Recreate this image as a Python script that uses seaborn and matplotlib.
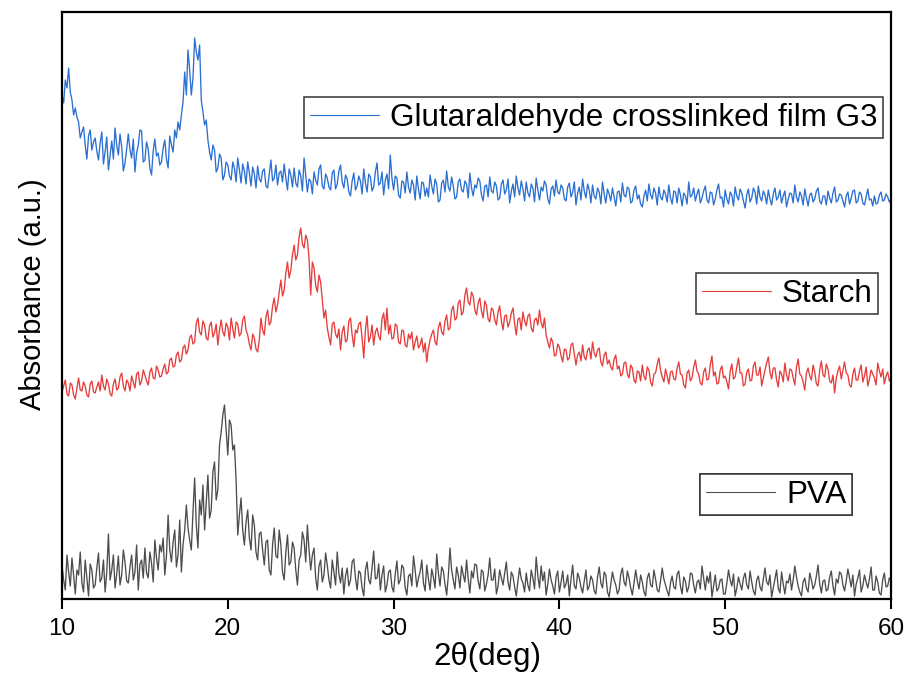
import numpy as np
import pandas as pd
import matplotlib
matplotlib.use("Agg")
import matplotlib.pyplot as plt
import seaborn as sns
from matplotlib.lines import Line2D

# 2-theta grid (deg), 0.1 deg step, 10..60 (one row below = 1 degree)
two_theta = [round(10 + 0.1 * i, 1) for i in range(501)]

g3_intensity = [
    505, 497, 520, 512, 532, 508, 500, 485, 492, 483,
    478, 462, 468, 473, 455, 441, 464, 470, 450, 458,
    462, 449, 440, 457, 468, 436, 448, 463, 430, 445,
    459, 441, 472, 455, 445, 466, 453, 429, 437, 451,
    466, 450, 442, 461, 428, 447, 455, 470, 469, 438,
    440, 458, 451, 432, 425, 449, 461, 444, 447, 435,
    438, 452, 460, 441, 432, 464, 455, 448, 470, 462,
    478, 470, 485, 498, 528, 505, 550, 530, 505, 522,
    562, 548, 540, 555, 500, 488, 475, 480, 460, 448,
    440, 455, 450, 428, 432, 446, 442, 420, 425, 438,
    435, 424, 420, 438, 432, 418, 442, 430, 417, 436,
    429, 416, 438, 427, 414, 433, 426, 412, 434, 421,
    418, 429, 431, 414, 412, 426, 440, 419, 422, 435,
    415, 427, 429, 418, 436, 422, 410, 431, 425, 413,
    432, 417, 413, 430, 424, 409, 442, 425, 408, 421,
    419, 406, 428, 420, 415, 431, 435, 414, 411, 426,
    422, 413, 410, 427, 430, 411, 416, 429, 435, 418,
    412, 425, 421, 408, 404, 419, 427, 410, 414, 424,
    419, 406, 431, 417, 408, 426, 423, 409, 413, 428,
    437, 415, 417, 428, 405, 420, 426, 411, 445, 422,
    410, 424, 422, 405, 402, 419, 418, 407, 428, 413,
    407, 420, 415, 400, 424, 411, 401, 418, 417, 404,
    412, 403, 425, 414, 406, 421, 416, 398, 400, 417,
    420, 408, 429, 413, 409, 423, 414, 401, 403, 418,
    421, 410, 408, 419, 416, 402, 427, 412, 404, 415,
    412, 422, 419, 405, 399, 414, 415, 403, 423, 409,
    407, 418, 414, 400, 402, 416, 420, 406, 410, 421,
    397, 409, 416, 403, 424, 412, 405, 419, 411, 399,
    418, 407, 403, 416, 412, 398, 422, 410, 400, 413,
    409, 419, 415, 401, 396, 411, 414, 404, 420, 408,
    406, 415, 412, 401, 399, 413, 417, 403, 408, 418,
    395, 407, 413, 400, 421, 409, 402, 416, 410, 397,
    415, 404, 401, 412, 408, 396, 418, 406, 397, 411,
    406, 399, 412, 403, 394, 408, 409, 398, 417, 405,
    403, 413, 411, 397, 399, 410, 414, 401, 405, 396,
    393, 404, 410, 399, 416, 405, 401, 412, 407, 395,
    413, 403, 400, 410, 406, 398, 415, 402, 396, 409,
    408, 397, 412, 405, 394, 407, 404, 396, 418, 403,
    405, 412, 399, 406, 411, 397, 402, 409, 414, 400,
    397, 408, 407, 395, 401, 410, 416, 402, 403, 393,
    410, 401, 396, 408, 405, 394, 413, 404, 400, 411,
    407, 399, 392, 405, 411, 398, 402, 412, 408, 396,
    414, 403, 399, 409, 405, 396, 410, 401, 395, 406,
    412, 400, 403, 410, 397, 404, 409, 393, 401, 407,
    406, 397, 415, 403, 398, 408, 404, 395, 411, 402,
    394, 405, 407, 398, 401, 409, 412, 399, 396, 404,
    404, 395, 409, 402, 397, 407, 413, 398, 400, 406,
    405, 399, 393, 404, 408, 396, 402, 409, 410, 397,
    399, 408, 406, 397, 395, 403, 411, 400, 401, 394,
    404, 396, 397, 405, 408, 399, 400, 406, 403, 398,
    401,
]

starch_intensity = [
    208, 214, 220, 206, 204, 217, 215, 205, 201, 212,
    222, 210, 209, 218, 214, 205, 203, 216, 219, 208,
    207, 213, 218, 209, 225, 214, 210, 221, 216, 206,
    204, 216, 221, 210, 212, 223, 227, 214, 209, 220,
    217, 209, 224, 218, 212, 226, 228, 215, 219, 230,
    225, 219, 215, 228, 232, 222, 221, 234, 230, 223,
    224, 231, 236, 226, 228, 240, 242, 233, 234, 245,
    248, 238, 240, 252, 255, 246, 250, 262, 265, 256,
    258, 277, 282, 268, 265, 279, 275, 262, 260, 274,
    278, 263, 267, 276, 255, 270, 280, 268, 264, 277,
    273, 260, 282, 271, 262, 278, 276, 264, 267, 280,
    284, 270, 265, 256, 250, 266, 262, 251, 248, 260,
    282, 270, 265, 283, 290, 275, 278, 294, 302, 288,
    295, 308, 320, 304, 310, 327, 338, 322, 330, 345,
    355, 340, 345, 363, 372, 356, 352, 365, 360, 342,
    305, 338, 332, 315, 308, 325, 318, 300, 282, 290,
    272, 263, 255, 276, 278, 266, 262, 271, 250, 268,
    274, 258, 260, 279, 282, 265, 253, 270, 267, 276,
    278, 262, 242, 270, 284, 258, 263, 275, 255, 268,
    272, 264, 260, 281, 287, 270, 292, 266, 275, 261,
    262, 276, 274, 258, 256, 270, 269, 255, 253, 266,
    261, 268, 250, 258, 264, 252, 255, 262, 248, 257,
    238, 252, 260, 266, 270, 258, 255, 272, 278, 268,
    265, 279, 285, 270, 272, 290, 294, 280, 282, 297,
    300, 285, 288, 305, 312, 298, 295, 308, 304, 290,
    285, 297, 302, 289, 282, 299, 295, 281, 278, 292,
    290, 280, 275, 288, 294, 279, 270, 284, 285, 273,
    278, 287, 292, 276, 265, 281, 282, 270, 288, 279,
    274, 284, 286, 272, 268, 280, 282, 275, 290, 277,
    272, 282, 265, 258, 252, 262, 258, 244, 245, 256,
    253, 244, 238, 251, 250, 240, 242, 255, 257, 246,
    235, 245, 248, 239, 255, 243, 240, 250, 252, 241,
    258, 247, 243, 250, 252, 238, 234, 245, 248, 236,
    240, 233, 230, 241, 245, 231, 234, 224, 226, 237,
    238, 226, 222, 235, 232, 220, 217, 229, 228, 219,
    235, 224, 220, 233, 230, 218, 214, 226, 227, 236,
    242, 230, 223, 218, 231, 224, 216, 228, 229, 221,
    220, 232, 238, 226, 225, 215, 212, 227, 230, 219,
    222, 233, 240, 229, 226, 217, 215, 228, 232, 220,
    221, 235, 244, 224, 228, 216, 217, 230, 234, 222,
    224, 218, 211, 229, 236, 221, 223, 233, 242, 227,
    227, 214, 216, 228, 231, 219, 220, 234, 238, 225,
    225, 233, 214, 222, 230, 237, 243, 228, 221, 232,
    232, 220, 213, 229, 226, 218, 237, 225, 219, 231,
    230, 222, 215, 233, 241, 226, 224, 218, 210, 227,
    232, 224, 220, 235, 228, 216, 214, 230, 239, 225,
    223, 236, 231, 219, 217, 225, 207, 222, 229, 234,
    221, 230, 238, 227, 225, 215, 213, 226, 232, 220,
    220, 229, 235, 218, 224, 233, 214, 221, 230, 226,
    222, 215, 237, 229, 223, 231, 216, 224, 228, 219,
    222,
]

pva_intensity = [
    35, 20, 10, 45, 28, 14, 42, 25, 6, 30,
    25, 48, 17, 8, 40, 22, 4, 36, 30, 12,
    15, 32, 47, 18, 22, 40, 8, 28, 66, 20,
    30, 45, 12, 26, 44, 15, 25, 50, 38, 19,
    17, 33, 45, 20, 28, 55, 10, 36, 40, 22,
    52, 27, 22, 48, 37, 18, 60, 42, 30, 55,
    48, 62, 25, 44, 85, 50, 38, 58, 70, 33,
    45, 80, 28, 55, 70, 95, 72, 60, 50, 88,
    122, 75, 52, 100, 85, 115, 70, 98, 125, 82,
    90, 128, 138, 100, 110, 155, 168, 185, 195, 170,
    145, 180, 175, 150, 155, 120, 65, 85, 102, 70,
    55, 78, 90, 62, 50, 85, 75, 48, 40, 66,
    68, 50, 35, 58, 60, 30, 25, 55, 72, 44,
    42, 70, 55, 28, 20, 48, 65, 35, 38, 58,
    52, 30, 15, 40, 45, 68, 60, 38, 75, 50,
    30, 45, 52, 22, 10, 34, 40, 18, 25, 47,
    35, 20, 12, 40, 28, 15, 48, 26, 17, 32,
    6, 24, 32, 14, 20, 38, 41, 22, 10, 29,
    27, 12, 4, 30, 38, 20, 16, 33, 49, 21,
    22, 36, 10, 25, 34, 8, 15, 28, 30, 13,
    8, 26, 39, 16, 20, 35, 32, 12, 5, 24,
    26, 14, 44, 30, 13, 22, 28, 40, 17, 9,
    35, 21, 10, 31, 23, 12, 46, 27, 14, 33,
    29, 16, 5, 24, 52, 30, 20, 11, 33, 25,
    12, 34, 25, 18, 40, 21, 7, 29, 22, 36,
    35, 19, 11, 30, 28, 9, 16, 25, 42, 20,
    20, 31, 6, 14, 30, 22, 15, 27, 38, 18,
    10, 28, 24, 13, 4, 19, 32, 21, 17, 8,
    27, 15, 9, 30, 22, 11, 43, 24, 12, 34,
    19, 28, 5, 16, 31, 20, 14, 6, 23, 29,
    8, 18, 29, 12, 16, 25, 4, 21, 35, 14,
    11, 27, 22, 13, 7, 19, 30, 10, 14, 24,
    20, 9, 6, 23, 33, 17, 12, 28, 25, 8,
    3, 16, 28, 20, 15, 6, 10, 26, 32, 18,
    14, 29, 22, 12, 5, 17, 30, 19, 11, 25,
    18, 8, 4, 22, 27, 15, 13, 30, 21, 10,
    8, 19, 32, 21, 15, 9, 4, 17, 24, 13,
    11, 26, 29, 14, 6, 23, 19, 8, 13, 27,
    26, 15, 7, 18, 20, 11, 34, 22, 10, 24,
    17, 28, 3, 14, 25, 9, 12, 20, 21, 6,
    6, 17, 30, 20, 14, 26, 4, 12, 23, 16,
    10, 22, 27, 15, 11, 29, 18, 9, 5, 20,
    24, 13, 9, 21, 32, 18, 15, 25, 3, 12,
    21, 30, 12, 7, 28, 16, 6, 19, 17, 26,
    10, 20, 34, 23, 14, 8, 4, 18, 22, 12,
    8, 27, 20, 11, 15, 24, 35, 16, 7, 19,
    20, 9, 11, 23, 29, 14, 5, 21, 17, 28,
    26, 15, 9, 19, 31, 22, 13, 25, 4, 16,
    22, 30, 8, 14, 25, 18, 12, 21, 33, 10,
    10, 24, 18, 7, 5, 20, 27, 13, 14, 22,
    20,
]

series_labels = ["Glutaraldehyde crosslinked film G3", "Starch", "PVA"]
series_colors = ["#2a6fd2", "#e63c3c", "#4d4d4d"]
x_ticks = [10, 20, 30, 40, 50, 60]

n = len(two_theta)
df = pd.DataFrame({
    "two_theta": two_theta * 3,
    "intensity": g3_intensity + starch_intensity + pva_intensity,
    "sample": [series_labels[0]] * n + [series_labels[1]] * n + [series_labels[2]] * n,
})

sns.set_theme(style="white")
plt.rcParams["font.family"] = ["Liberation Sans", "DejaVu Sans"]

fig = plt.figure(figsize=(9.09, 6.73), dpi=100)
ax = fig.add_axes([62 / 909, 74 / 673, 829 / 909, 587 / 673])

for lab, col in zip(series_labels, series_colors):
    sub = df[df["sample"] == lab]
    sns.lineplot(data=sub, x="two_theta", y="intensity", ax=ax, color=col,
                 linewidth=0.95, estimator=None, sort=False, legend=False)

ax.set_xlim(10, 60)
ax.set_ylim(1, 588)
ax.set_xticks(x_ticks)
ax.set_xticklabels([str(t) for t in x_ticks])
ax.set_yticks([])
ax.tick_params(axis="x", direction="out", length=7, width=1.5, pad=7,
               labelsize=17.5, colors="black", bottom=True)
for sp in ax.spines.values():
    sp.set_visible(True)
    sp.set_color("black")
    sp.set_linewidth(1.6)

ax.set_xlabel("2θ(deg)", fontsize=22.5, color="black")
ax.xaxis.set_label_coords(0.5127, -0.073)
ax.set_ylabel("Absorbance (a.u.)", fontsize=21, color="black")
ax.yaxis.set_label_coords(-0.018, 0.52)

legend_pos = [(0.9903, 0.8552), (0.9843, 0.5554), (0.953, 0.2129)]
for lab, col, pos in zip(series_labels, series_colors, legend_pos):
    h = Line2D([], [], color=col, linewidth=0.8)
    leg = ax.legend(handles=[h], labels=[lab], loc="upper right", bbox_to_anchor=pos,
                    borderaxespad=0, fontsize=22.6, frameon=True, fancybox=False,
                    handlelength=2.2, handletextpad=0.35, borderpad=0.18,
                    framealpha=1)
    leg.get_frame().set_edgecolor("#333333")
    leg.get_frame().set_linewidth(1.1)
    for t in leg.get_texts():
        t.set_color("black")
    ax.add_artist(leg)

fig.savefig("out.png", dpi=100)
